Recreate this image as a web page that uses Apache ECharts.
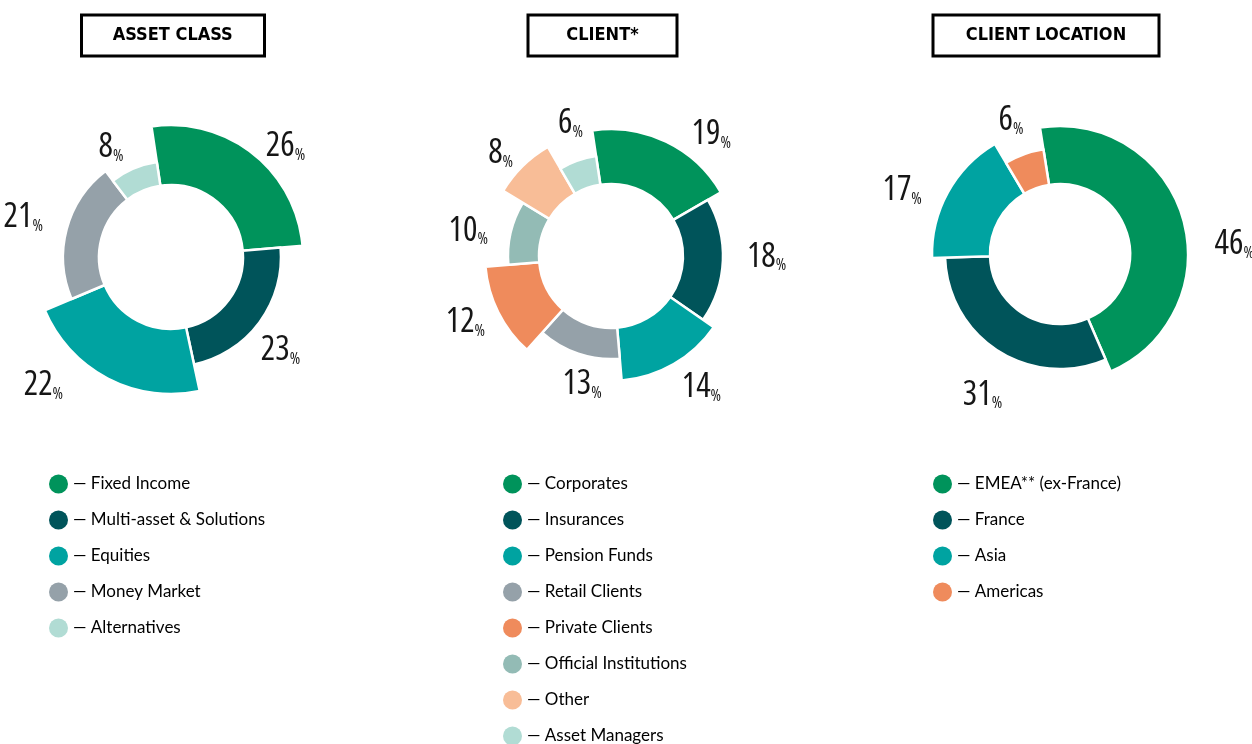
<!DOCTYPE html>
<html><head><meta charset="utf-8">
<script src="https://cdn.jsdelivr.net/npm/echarts@6/dist/echarts.min.js"></script>
<style>html,body{margin:0;padding:0;background:#fff}#c{width:1252px;height:744px}</style>
</head><body><div id="c"></div>
<script>
// ---- data ----
const chartTitles = ['ASSET CLASS', 'CLIENT*', 'CLIENT LOCATION'];
const assetCategories = ['Fixed Income', 'Multi-asset & Solutions', 'Equities', 'Money Market', 'Alternatives'];
const assetValues = [26, 23, 22, 21, 8];
const clientCategories = ['Corporates', 'Insurances', 'Pension Funds', 'Retail Clients', 'Private Clients', 'Official Institutions', 'Other', 'Asset Managers'];
const clientValues = [19, 18, 14, 13, 12, 10, 8, 6];
const locationCategories = ['EMEA** (ex-France)', 'France', 'Asia', 'Americas'];
const locationValues = [46, 31, 17, 6];

// ---- styles ----
const COL = {
  green: '#00935B', dark: '#00545A', teal: '#00A3A1', gray: '#95A1A9',
  mint: '#B1DCD4', orange: '#EF8B5C', sage: '#93BBB5', peach: '#F8BD97'
};
const NUM_FONT = "'Open Sans', 'DejaVu Sans Condensed', sans-serif";
const TITLE_FONT = "'DejaVu Sans Condensed', 'DejaVu Sans', sans-serif";
const LEGEND_FONT = "Lato, 'Noto Sans', sans-serif";

const charts = [
  { cats: assetCategories, vals: assetValues,
    colors: [COL.green, COL.dark, COL.teal, COL.gray, COL.mint],
    center: [171, 257], inner: 72, outer: [132, 110, 137, 108, 96], start: 98.5,
    nudge: [[3, -1], [-10, 23], [-36, 0], [-11, -10], [-2, -14]],
    legendLeft: 49, boxLeft: 81, boxWidth: 183.5 },
  { cats: clientCategories, vals: clientValues,
    colors: [COL.green, COL.dark, COL.teal, COL.gray, COL.orange, COL.sage, COL.peach, COL.mint],
    center: [611, 256], inner: 72, outer: [127, 112, 125, 103, 126, 103, 126, 101], start: 98.5,
    nudge: [[17, 0], [11, -4], [-1, 16], [31, 23], [-1, 7], [-10, 0], [1, -7], [13, -30]],
    legendLeft: 503, boxLeft: 527.5, boxWidth: 150 },
  { cats: locationCategories, vals: locationValues,
    colors: [COL.green, COL.dark, COL.teal, COL.orange],
    center: [1060, 254], inner: 70, outer: [128, 115, 128, 106], start: 99,
    nudge: [[19, 28], [13, 37], [-14, 2], [7, -26]],
    legendLeft: 933, boxLeft: 932.5, boxWidth: 227 }
];

const labelRich = {
  n: { fontFamily: NUM_FONT, fontStyle: 'condensed', fontSize: 34, color: '#161616', lineHeight: 34 },
  p: { fontFamily: NUM_FONT, fontStyle: 'condensed', fontSize: 16, color: '#161616', verticalAlign: 'bottom', lineHeight: 27 }
};

const series = [];
charts.forEach(ch => {
  ch.vals.forEach((_, k) => {
    series.push({
      type: 'pie', silent: true, animation: false,
      center: ch.center, radius: [ch.inner, ch.outer[k]],
      startAngle: ch.start, clockwise: true, avoidLabelOverlap: false,
      labelLine: { show: false, length: 8, length2: 0 },
      labelLayout: { dx: ch.nudge[k][0], dy: ch.nudge[k][1] },
      data: ch.vals.map((v, j) => ({
        name: ch.cats[j], value: v,
        itemStyle: j === k
          ? { color: ch.colors[j], borderColor: '#fff', borderWidth: 2.5 }
          : { color: 'rgba(0,0,0,0)', borderWidth: 0 },
        label: j === k
          ? { show: true, position: 'outside', formatter: '{n|' + v + '}{p|%}', rich: labelRich }
          : { show: false }
      }))
    });
  });
});

const option = {
  backgroundColor: '#fff',
  title: charts.map((ch, i) => ({
    text: '{t|' + chartTitles[i] + '}',
    left: ch.boxLeft, top: 14, padding: [11.5, 0],
    borderColor: '#000', borderWidth: 3, backgroundColor: '#fff',
    textStyle: { rich: { t: { width: ch.boxWidth, align: 'center', fontFamily: TITLE_FONT, fontWeight: 'bold', fontSize: 18, lineHeight: 20, color: '#000' } } }
  })),
  legend: charts.map(ch => ({
    orient: 'vertical', left: ch.legendLeft, top: 474.5, height: 320, padding: 0,
    itemWidth: 19, itemHeight: 19, itemGap: 17, icon: 'circle', selectedMode: false,
    formatter: n => '— ' + n,
    textStyle: { fontFamily: LEGEND_FONT, fontSize: 17, color: '#000', lineHeight: 19 },
    data: ch.cats.map((n, j) => ({ name: n, itemStyle: { color: ch.colors[j], borderWidth: 0 } }))
  })),
  series
};

const chart = echarts.init(document.getElementById('c'), null, { renderer: 'canvas' });
chart.setOption(option);
</script>
</body></html>
